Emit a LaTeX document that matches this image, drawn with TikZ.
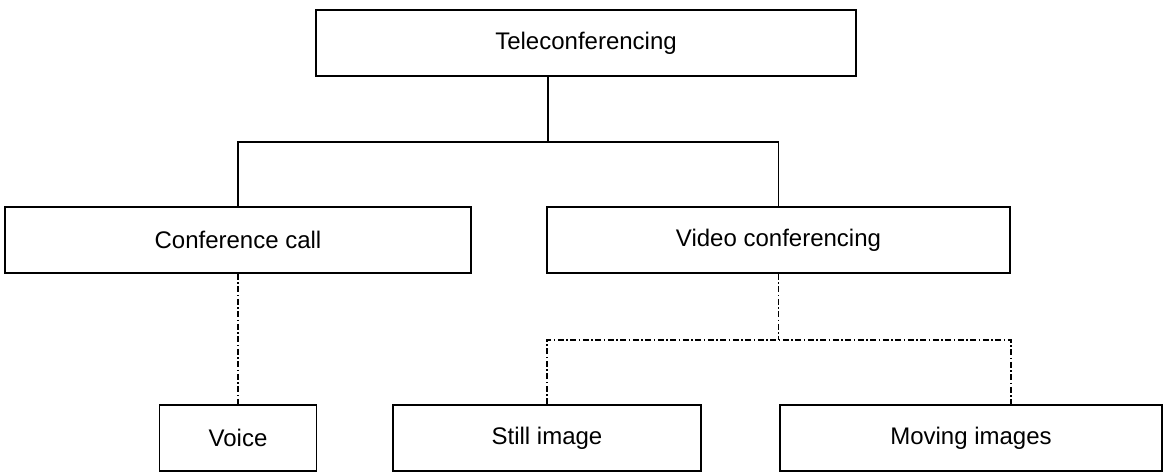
\documentclass[tikz,border=0pt]{standalone}
\usepackage{fontspec}
\setmainfont{Liberation Sans}
\begin{document}
\begin{tikzpicture}[x=1pt,y=-1pt,
  box/.style={draw=black, line width=1.6pt, rectangle, minimum height=66pt,
    inner sep=0pt, font=\fontsize{24}{28}\selectfont},
  link/.style={draw=black, line width=1.4pt},
  dotlink/.style={draw=black, line width=1.4pt,
    dash pattern=on 6pt off 2.5pt on 1.5pt off 2.5pt}]
\useasboundingbox (0,0) rectangle (1169,472);

% hierarchy boxes
\node[box, minimum width=540pt] (tele) at (586,43) {Teleconferencing};
\node[box, minimum width=466pt] (conf) at (238,240) {Conference call};
\node[box, minimum width=463pt] (video) at (778.5,240) {Video conferencing};
\node[box, minimum width=157pt] (voice) at (238,438) {Voice};
\node[box, minimum width=308pt] (still) at (547,438) {Still image};
\node[box, minimum width=382pt] (moving) at (971,438) {Moving images};

% branch points
\coordinate (split) at (548,142);
\coordinate (vsplit) at (778.5,340);
\coordinate (mdrop) at (1011,0);

% solid tree lines
\draw[link] (tele.south -| split) -- (split);
\draw[link] (conf.north) |- (split) -| (video.north);

% dash-dot lines
\draw[dotlink] (conf.south) -- (conf.south |- voice.north);
\draw[dotlink] (video.south) -- (vsplit);
\draw[dotlink] (still.north) |- (vsplit) -| (mdrop |- moving.north);
\end{tikzpicture}
\end{document}
